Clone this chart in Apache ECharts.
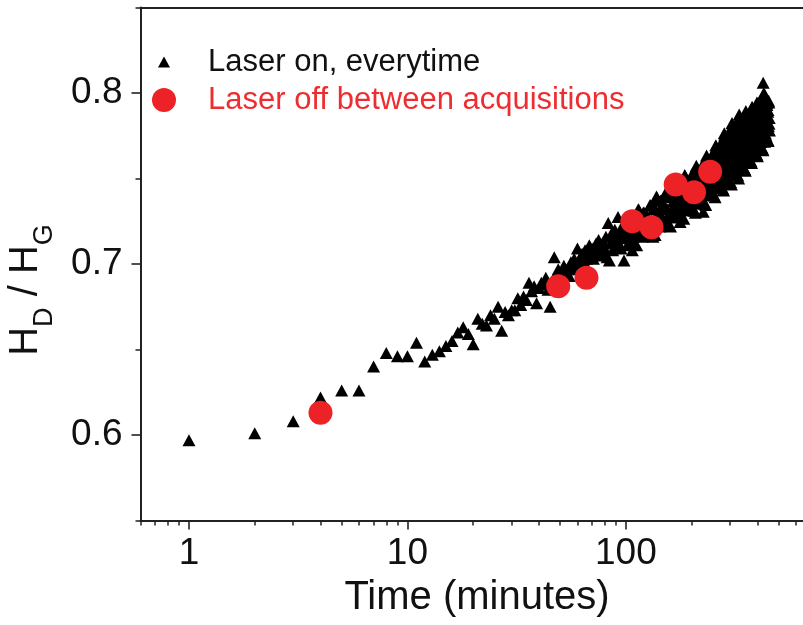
<!DOCTYPE html>
<html><head><meta charset="utf-8">
<script src="https://cdn.jsdelivr.net/npm/echarts@6/dist/echarts.min.js"></script>
<style>html,body{margin:0;padding:0;background:#fff}#c{width:803px;height:625px}</style>
</head><body><div id="c"></div>
<script>
// ---- tick values ----
const xMajorTicks = [1, 10, 100];
const xMinorTicks = [0.6, 0.7, 0.8, 0.9, 2, 3, 4, 5, 6, 7, 8, 9, 20, 30, 40, 50, 60, 70, 80, 90, 200, 300, 400, 500, 600];
const yMajorTicks = [0.6, 0.7, 0.8];
const yMinorTicks = [0.55, 0.65, 0.75, 0.85];

// ---- "Laser on, everytime" (triangles) ----
const onEarlyTime = [1,2,3,4,5,6,7,8,9,10,11,12,13,14,15,16,17,18,19,20,21,22,23,24,25,26,27,28,29,30,31,32,33,34,35,36,37,38,39,40,41,42,43,44,45,46,47,48,49,50,51,52,53,54,55,56,57,58,59,60,61,62,63,64,65,66,67,68,69,70,71,72,73,74,75,76,77,78,79,80,81,82,83,84,85,86,87,88,89,90,91,92,93,94,95,96,97,98,99,100];
const onEarlyRatio = [0.597,0.601,0.608,0.622,0.626,0.626,0.640,0.648,0.646,0.646,0.654,0.643,0.647,0.649,0.652,0.655,0.660,0.663,0.659,0.653,0.668,0.665,0.664,0.670,0.668,0.675,0.661,0.672,0.670,0.673,0.673,0.680,0.676,0.681,0.679,0.689,0.684,0.687,0.677,0.686,0.689,0.688,0.692,0.685,0.675,0.690,0.704,0.694,0.697,0.692,0.695,0.699,0.694,0.697,0.693,0.701,0.698,0.703,0.697,0.709,0.700,0.704,0.706,0.702,0.708,0.703,0.705,0.711,0.706,0.709,0.703,0.710,0.712,0.707,0.714,0.705,0.711,0.707,0.713,0.709,0.716,0.704,0.724,0.702,0.712,0.718,0.708,0.714,0.720,0.711,0.716,0.7275,0.712,0.719,0.709,0.722,0.715,0.702,0.718,0.724];
const onLateTime = [102,104,106,108,110,112,114,116,118,120,122,124,126,128,130,132,134,136,138,140,142,144,146,148,150,152,154,156,158,160,162,164,166,168,170,172,174,176,178,180,182,184,186,188,190,192,194,196,198,200,202,204,206,208,210,212,214,216,218,220,222,224,226,228,230,232,234,236,238,240,242,244,246,248,250,252,254,256,258,260,262,264,266,268,270,272,274,276,278,280,282,284,286,288,290,292,294,296,298,300,302,304,306,308,310,312,314,316,318,320,322,324,326,328,330,332,334,336,338,340,342,344,346,348,350,352,354,356,358,360,362,364,366,368,370,372,374,376,378,380,382,384,386,388,390,392,394,396,398,400,402,404,406,408,410,412,414,416,418,420,422,424,426,428,430,432,434,436,438,440,442,444,446,448,450,452,454];
const onLateRatio = [0.718,0.711,0.726,0.716,0.7245,0.711,0.732,0.720,0.7167,0.730,0.726,0.719,0.725,0.717,0.734,0.7225,0.732,0.717,0.7395,0.727,0.723,0.737,0.733,0.7255,0.732,0.723,0.741,0.7285,0.739,0.722,0.7475,0.733,0.728,0.7435,0.739,0.731,0.737,0.728,0.747,0.7335,0.744,0.7265,0.752,0.7375,0.7325,0.748,0.7435,0.735,0.7415,0.7315,0.7515,0.7375,0.7485,0.730,0.7575,0.742,0.7365,0.7535,0.7485,0.739,0.7465,0.7355,0.757,0.742,0.754,0.7345,0.7635,0.7465,0.7415,0.759,0.754,0.744,0.752,0.7405,0.763,0.747,0.7595,0.739,0.7695,0.752,0.7465,0.765,0.7595,0.749,0.7575,0.745,0.7695,0.752,0.7655,0.743,0.7765,0.757,0.7505,0.771,0.765,0.7535,0.7625,0.749,0.7755,0.7565,0.771,0.7465,0.7825,0.7615,0.7545,0.777,0.770,0.7575,0.767,0.7525,0.781,0.7605,0.776,0.750,0.7875,0.7655,0.7585,0.781,0.774,0.761,0.771,0.7565,0.784,0.764,0.779,0.7545,0.7895,0.769,0.7625,0.783,0.777,0.765,0.774,0.761,0.786,0.768,0.7815,0.759,0.792,0.773,0.7665,0.786,0.780,0.769,0.777,0.765,0.7885,0.772,0.7845,0.763,0.794,0.776,0.770,0.7885,0.783,0.7725,0.780,0.7685,0.791,0.775,0.787,0.7665,0.796,0.7785,0.773,0.7905,0.785,0.775,0.7825,0.773,0.793,0.7785,0.789,0.772,0.7955,0.782,0.778];
const onLateOddTime = [101,103,105,107,109,111,113,115,117,119,121,123,125,127,129,131,133,135,137,139,141,143,145,147,149,151,153,155,157,159,161,163,165,167,169,171,173,175,177,179,181,183,185,187,189,191,193,195,197,199,201,203,205,207,209,211,213,215,217,219,221,223,225,227,229,231,233,235,237,239,241,243,245,247,249,251,253,255,257,259,261,263,265,267,269,271,273,275,277,279,281,283,285,287,289,291,293,295,297,299,301,303,305,307,309,311,313,315,317,319,321,323,325,327,329,331,333,335,337,339,341,343,345,347,349,351,353,355,357,359,361,363,365,367,369,371,373,375,377,379,381,383,385,387,389,391,393,395,397,399,401,403,405,407,409,411,413,415,417,419,421,423,425,427,429,431,433,435,437,439,441,443,445,447,449,451,453];
const onLateOddRatio = [0.7206,0.7126,0.7268,0.7187,0.7113,0.7259,0.7184,0.7313,0.7237,0.7159,0.7301,0.7201,0.7281,0.7191,0.7345,0.7255,0.7174,0.7331,0.7249,0.7386,0.7304,0.722,0.7372,0.7263,0.735,0.7249,0.7422,0.7319,0.7226,0.7405,0.731,0.7464,0.7368,0.7272,0.7438,0.7317,0.7409,0.73,0.7479,0.7371,0.7275,0.7453,0.7356,0.7511,0.7414,0.7315,0.7485,0.736,0.7454,0.7341,0.7527,0.7413,0.7311,0.7501,0.7398,0.7564,0.746,0.7354,0.7538,0.7403,0.7505,0.7382,0.7585,0.7462,0.7352,0.7557,0.7446,0.7624,0.7513,0.7402,0.7595,0.7454,0.756,0.7433,0.7644,0.7515,0.7401,0.7614,0.7499,0.7683,0.7568,0.7451,0.7654,0.7504,0.7617,0.748,0.7707,0.7568,0.7442,0.7675,0.7548,0.7751,0.7622,0.7492,0.7715,0.7549,0.7673,0.7522,0.7768,0.7616,0.748,0.773,0.7592,0.781,0.7671,0.7531,0.777,0.7593,0.7725,0.7563,0.7825,0.7662,0.7517,0.7779,0.7634,0.7857,0.7714,0.7569,0.7812,0.763,0.7761,0.7599,0.7856,0.7696,0.7556,0.7807,0.7669,0.788,0.7743,0.7609,0.7833,0.7667,0.7788,0.7641,0.7876,0.773,0.7602,0.7834,0.7707,0.7903,0.7777,0.7652,0.7861,0.7705,0.7818,0.7679,0.79,0.7763,0.7641,0.7861,0.774,0.7928,0.7806,0.7686,0.7888,0.7738,0.7847,0.7713,0.7927,0.7793,0.7676,0.7887,0.7769,0.7948,0.7831,0.7715,0.7907,0.7763,0.7866,0.7746,0.7942,0.7824,0.7726,0.79,0.7805,0.7945,0.7854];
const onExtraTime = [107, 133, 177, 226, 398, 425, 428, 431];
const onExtraRatio = [0.708, 0.716, 0.7245, 0.7305, 0.7945, 0.806, 0.800, 0.799];

// ---- "Laser off between acquisitions" (red circles) ----
const offTime = [4, 49, 66, 107, 131, 169, 205, 243];
const offRatio = [0.613, 0.687, 0.692, 0.725, 0.7215, 0.7465, 0.742, 0.754];

const zip = (a, b) => a.map((v, i) => [v, b[i]]);
const onData = zip(onEarlyTime, onEarlyRatio).concat(
  zip(onLateTime, onLateRatio), zip(onLateOddTime, onLateOddRatio), zip(onExtraTime, onExtraRatio));
const offData = zip(offTime, offRatio);

const FONT = '"Liberation Sans", Arial, Helvetica, sans-serif';
const INK = '#111';
const AXIS = '#222';
const RED = '#ec2227';

const chart = echarts.init(document.getElementById('c'), null, {renderer: 'canvas'});
chart.setOption({
  animation: false,
  backgroundColor: '#fff',
  textStyle: {fontFamily: FONT},
  grid: {left: 140.5, top: 7.5, width: 663, height: 513, outerBoundsMode: 'none', containLabel: false},
  legend: [
    {
      data: [{name: 'Laser on, everytime', icon: 'triangle'}],
      left: 158, top: 46.5, padding: 0, itemWidth: 12, itemHeight: 11, selectedMode: false,
      textStyle: {fontSize: 31, color: INK, fontFamily: FONT, padding: [0, 0, 0, 33]}
    },
    {
      data: [{name: 'Laser off between acquisitions', icon: 'circle'}],
      left: 152, top: 84.5, padding: 0, itemWidth: 24, itemHeight: 24, selectedMode: false,
      textStyle: {fontSize: 31, color: '#ee2d31', fontFamily: FONT, padding: [0, 0, 0, 27]}
    }
  ],
  xAxis: [
    {
      type: 'log', logBase: 10, min: 0.6, max: 650, position: 'bottom',
      axisLine: {show: true, lineStyle: {color: AXIS, width: 2}},
      axisTick: {show: true, inside: false, length: 9, lineStyle: {color: AXIS, width: 1.6}, customValues: xMajorTicks},
      axisLabel: {show: true, customValues: xMajorTicks, fontSize: 37, margin: 15, color: INK, fontFamily: FONT,
        formatter: v => String(Math.round(v))},
      splitLine: {show: false}, minorTick: {show: false},
      name: 'Time (minutes)', nameLocation: 'middle', nameGap: 57,
      nameTextStyle: {fontSize: 40, color: INK, fontFamily: FONT, padding: [0, 0, 0, 10]}
    },
    {
      type: 'log', logBase: 10, min: 0.6, max: 650, position: 'bottom',
      axisLine: {show: false},
      axisTick: {show: true, inside: false, length: 5, lineStyle: {color: AXIS, width: 1.5}, customValues: xMinorTicks},
      axisLabel: {show: false}, splitLine: {show: false}
    },
    {
      type: 'log', logBase: 10, min: 0.6, max: 650, position: 'top',
      axisLine: {show: true, lineStyle: {color: AXIS, width: 2}},
      axisTick: {show: false}, axisLabel: {show: false}, splitLine: {show: false}
    }
  ],
  yAxis: [
    {
      type: 'value', min: 0.55, max: 0.85, position: 'left',
      axisLine: {show: true, lineStyle: {color: AXIS, width: 2}},
      axisTick: {show: true, inside: false, length: 9, lineStyle: {color: AXIS, width: 1.6}, customValues: yMajorTicks},
      axisLabel: {show: true, customValues: yMajorTicks, fontSize: 37, margin: 18, color: INK, fontFamily: FONT,
        formatter: v => v.toFixed(1)},
      splitLine: {show: false},
      name: '{m|H}{s|D}{m| / H}{s|G}', nameLocation: 'middle', nameRotate: 90, nameGap: 82,
      nameTextStyle: {
        color: INK, fontFamily: FONT, padding: [0, 52, 0, 0],
        rich: {
          m: {fontSize: 40, color: INK, fontFamily: FONT, verticalAlign: 'top'},
          s: {fontSize: 27, color: INK, fontFamily: FONT, verticalAlign: 'top', padding: [26, 0, 0, 0]}
        }
      }
    },
    {
      type: 'value', min: 0.55, max: 0.85, position: 'left',
      axisLine: {show: false},
      axisTick: {show: true, inside: false, length: 5, lineStyle: {color: AXIS, width: 1.5}, customValues: yMinorTicks},
      axisLabel: {show: false}, splitLine: {show: false}
    }
  ],
  series: [
    {
      name: 'Laser on, everytime', type: 'scatter', xAxisIndex: 0, yAxisIndex: 0,
      symbol: 'triangle', symbolSize: [13, 12], data: onData,
      itemStyle: {color: '#000', opacity: 1}, z: 2, emphasis: {disabled: true}
    },
    {
      name: 'Laser off between acquisitions', type: 'scatter', xAxisIndex: 0, yAxisIndex: 0,
      symbol: 'circle', symbolSize: 24, data: offData,
      itemStyle: {color: RED, opacity: 1}, z: 3, emphasis: {disabled: true}
    }
  ]
});
</script></body></html>
